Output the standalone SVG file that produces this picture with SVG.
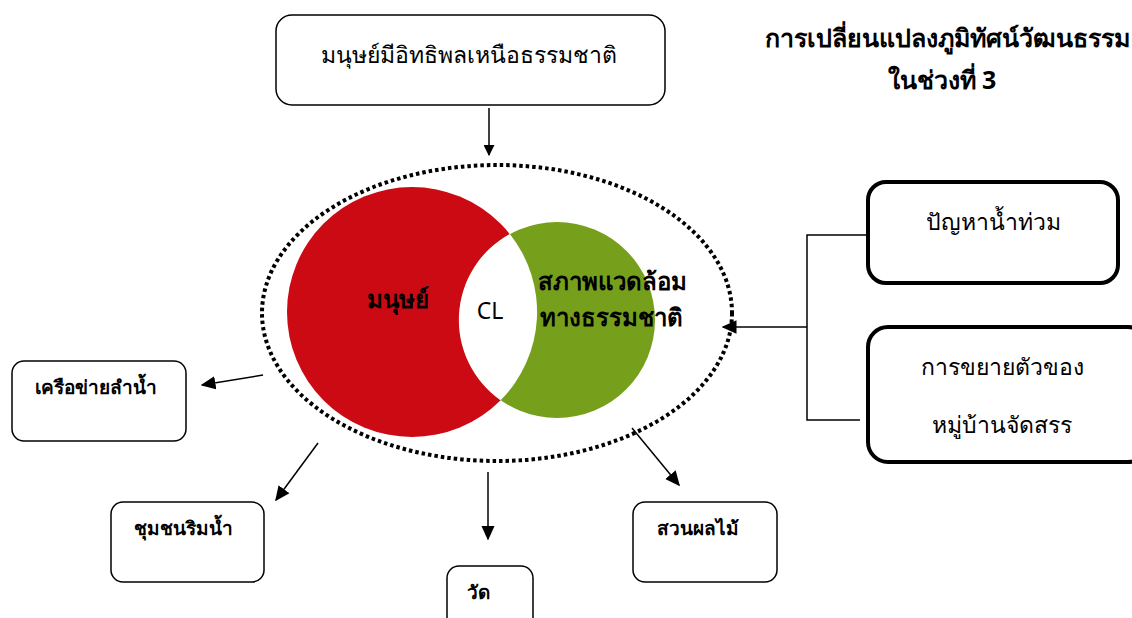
<svg xmlns="http://www.w3.org/2000/svg" width="1132" height="618" viewBox="0 0 1132 618">
<defs>
<marker id="ah" viewBox="0 0 10 10" refX="9" refY="5" markerWidth="11" markerHeight="11" markerUnits="userSpaceOnUse" orient="auto">
<path d="M0,0 L10,5 L0,10 Z" fill="#000"/>
</marker>
<marker id="ahb" viewBox="0 0 10 10" refX="9" refY="5" markerWidth="15" markerHeight="15" markerUnits="userSpaceOnUse" orient="auto">
<path d="M0,0.5 L10,5 L0,9.5 Z" fill="#000"/>
</marker>
</defs>
<style>
.box{fill:#fff;stroke:#000;stroke-width:1.5}
.tbox{fill:#fff;stroke:#000;stroke-width:4}
.reg{font-family:"Noto Sans","DejaVu Sans",sans-serif;font-size:23px;fill:#000}
.bold{font-family:"Noto Sans","DejaVu Sans",sans-serif;font-size:19px;font-weight:bold;fill:#000}
.cbold{font-family:"Noto Sans","DejaVu Sans",sans-serif;font-size:24px;font-weight:bold;fill:#000}
.title{font-family:"Noto Sans","DejaVu Sans",sans-serif;font-size:25px;font-weight:bold;fill:#000}
.ln{stroke:#000;stroke-width:1.5;fill:none}
</style>
<rect width="1132" height="618" fill="#fff"/>
<g id="title">
<text class="title" x="1130" y="47" text-anchor="end">การเปลี่ยนแปลงภูมิทัศน์วัฒนธรรม</text>
<text class="title" x="942" y="89" text-anchor="middle">ในช่วงที่ 3</text>
</g>
<g id="top-node">
<rect class="box" x="276" y="15" width="389" height="90" rx="16"/>
<text class="reg" x="469" y="63" text-anchor="middle">มนุษย์มีอิทธิพลเหนือธรรมชาติ</text>
</g>
<g id="cl-diagram">
<circle cx="412" cy="312" r="125" fill="#CC0A14"/>
<circle cx="557" cy="320" r="98" fill="#76A01C"/>
<path d="M509.8,234 A125,125 0 0 1 500.6,400.2 A98,98 0 0 1 509.8,234 Z" fill="#fff"/>
<ellipse cx="497" cy="313" rx="235" ry="148" fill="none" stroke="#000" stroke-width="4" stroke-dasharray="3.5,3"/>
<text class="cbold" x="398" y="308" text-anchor="middle">มนุษย์</text>
<text class="reg" x="490" y="319" text-anchor="middle">CL</text>
<text class="cbold" x="538" y="290">สภาพแวดล้อม</text>
<text class="cbold" x="540" y="326">ทางธรรมชาติ</text>
</g>
<g id="flood">
<rect class="tbox" x="868" y="182" width="250" height="101" rx="18"/>
<text class="reg" x="993" y="230" text-anchor="middle">ปัญหาน้ำท่วม</text>
</g>
<g id="housing">
<rect class="tbox" x="868" y="327" width="280" height="135" rx="20"/>
<text class="reg" x="1002" y="375" text-anchor="middle">การขยายตัวของ</text>
<text class="reg" x="1002" y="433" text-anchor="middle">หมู่บ้านจัดสรร</text>
</g>
<g id="river-network">
<rect class="box" x="12" y="361" width="174" height="80" rx="12"/>
<text class="bold" x="35" y="394">เครือข่ายลำน้ำ</text>
</g>
<g id="riverside">
<rect class="box" x="111" y="502" width="153" height="80" rx="12"/>
<text class="bold" x="134" y="535">ชุมชนริมน้ำ</text>
</g>
<g id="temple">
<rect class="box" x="447" y="566" width="86" height="70" rx="12"/>
<text class="bold" x="467" y="599">วัด</text>
</g>
<g id="orchard">
<rect class="box" x="633" y="502" width="144" height="80" rx="12"/>
<text class="bold" x="657" y="535">สวนผลไม้</text>
</g>
<g id="connectors">
<line class="ln" x1="489" y1="108" x2="489" y2="155" marker-end="url(#ah)"/>
<polyline class="ln" points="868,235 807,235 807,420 860,420"/>
<line class="ln" x1="807" y1="327" x2="723" y2="327" marker-end="url(#ahb)"/>
<line class="ln" x1="263" y1="375" x2="202" y2="385" marker-end="url(#ahb)"/>
<line class="ln" x1="318" y1="443" x2="276" y2="500" marker-end="url(#ahb)"/>
<line class="ln" x1="488" y1="472" x2="488" y2="539" marker-end="url(#ahb)"/>
<line class="ln" x1="632" y1="428" x2="679" y2="485" marker-end="url(#ahb)"/>
</g>
</svg>
